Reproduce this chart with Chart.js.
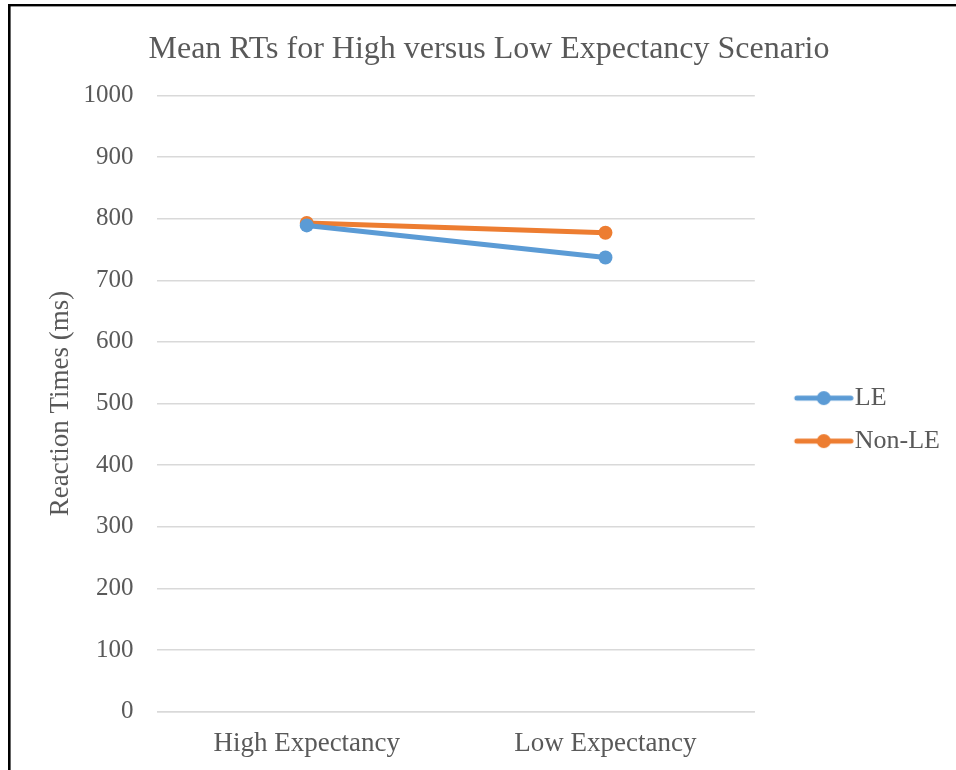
<!DOCTYPE html>
<html>
<head>
<meta charset="utf-8">
<script src="https://cdn.jsdelivr.net/npm/chart.js@4/dist/chart.umd.min.js"></script>
<style>
  html, body { margin: 0; padding: 0; background: #fff; }
  #wrap { position: relative; width: 956px; height: 770px; }
</style>
</head>
<body>
<div id="wrap"><canvas id="chart" width="956" height="770"></canvas></div>
<script>
const categories = ['High Expectancy', 'Low Expectancy'];
const leValues = [789, 737];
const nonLeValues = [793, 777];
const yTicks = [0, 100, 200, 300, 400, 500, 600, 700, 800, 900, 1000];

const BLUE = '#5b9bd5';
const ORANGE = '#ed7d31';
const TEXT = '#595959';
const FONT = "'Liberation Serif', 'Times New Roman', serif";

// Legend key width; the swatch canvas is drawn centred on this box
const KEY_W = 70;

// Legend swatch: a short line with a dot in the middle, placed so the
// line ends just before the label text
function legendSwatch(color) {
  const c = document.createElement('canvas');
  c.width = KEY_W + 24; c.height = 16;
  const g = c.getContext('2d');
  const x0 = KEY_W - 33, x1 = KEY_W + 21;
  g.strokeStyle = color; g.lineWidth = 5; g.lineCap = 'round';
  g.beginPath(); g.moveTo(x0, 8); g.lineTo(x1, 8); g.stroke();
  g.fillStyle = color;
  g.beginPath(); g.arc((x0 + x1) / 2, 8, 7, 0, Math.PI * 2); g.fill();
  return c;
}

// White page plus the frame lines along the top and left edges
const framePlugin = {
  id: 'frame',
  beforeDraw(chart) {
    const ctx = chart.ctx;
    ctx.save();
    ctx.fillStyle = '#fff';
    ctx.fillRect(0, 0, chart.width, chart.height);
    ctx.fillStyle = '#000';
    ctx.fillRect(8, 4, 2.6, chart.height - 4);
    ctx.fillRect(8, 4, chart.width - 8, 2.4);
    ctx.restore();
  }
};

new Chart(document.getElementById('chart'), {
  type: 'line',
  data: {
    labels: categories,
    datasets: [
      {
        label: 'LE',
        data: leValues,
        borderColor: BLUE,
        backgroundColor: BLUE,
        borderWidth: 5,
        pointRadius: 7,
        pointHoverRadius: 7,
        pointBackgroundColor: BLUE,
        pointBorderWidth: 0,
        tension: 0
      },
      {
        label: 'Non-LE',
        data: nonLeValues,
        borderColor: ORANGE,
        backgroundColor: ORANGE,
        borderWidth: 5,
        pointRadius: 7,
        pointHoverRadius: 7,
        pointBackgroundColor: ORANGE,
        pointBorderWidth: 0,
        tension: 0
      }
    ]
  },
  options: {
    responsive: false,
    animation: false,
    layout: { padding: { left: 28, right: 6, top: 14, bottom: -6 } },
    plugins: {
      title: {
        display: true,
        text: 'Mean RTs for High versus Low Expectancy Scenario',
        color: TEXT,
        font: { family: FONT, size: 32, weight: 'normal' },
        padding: { top: 16, bottom: 27 }
      },
      legend: {
        position: 'right',
        align: 'center',
        title: { display: true, text: ' ', font: { family: FONT, size: 21 }, padding: { top: 12, bottom: 12 } },
        labels: {
          color: TEXT,
          font: { family: FONT, size: 26 },
          usePointStyle: true,
          pointStyleWidth: KEY_W,
          padding: 17,
          generateLabels(chart) {
            return chart.data.datasets.map((ds, i) => ({
              text: ds.label,
              fillStyle: ds.borderColor,
              strokeStyle: ds.borderColor,
              lineWidth: 0,
              pointStyle: legendSwatch(ds.borderColor),
              fontColor: TEXT,
              hidden: false,
              datasetIndex: i
            }));
          }
        }
      },
      tooltip: { enabled: false }
    },
    scales: {
      x: {
        offset: true,
        grid: { display: false, drawTicks: false },
        border: { display: true, color: '#d9d9d9', width: 1.5 },
        ticks: { color: TEXT, font: { family: FONT, size: 27 }, padding: 16 }
      },
      y: {
        min: 0,
        max: 1000,
        afterBuildTicks(axis) { axis.ticks = yTicks.map(v => ({ value: v })); },
        grid: { color: '#d9d9d9', lineWidth: 1.5, drawTicks: false },
        border: { display: false },
        ticks: {
          color: TEXT,
          font: { family: FONT, size: 25 },
          padding: 24,
          callback: v => String(v)
        },
        title: {
          display: true,
          text: 'Reaction Times (ms)',
          color: TEXT,
          font: { family: FONT, size: 27 },
          padding: { top: 17, bottom: -18 }
        }
      }
    }
  },
  plugins: [framePlugin]
});
</script>
</body>
</html>
